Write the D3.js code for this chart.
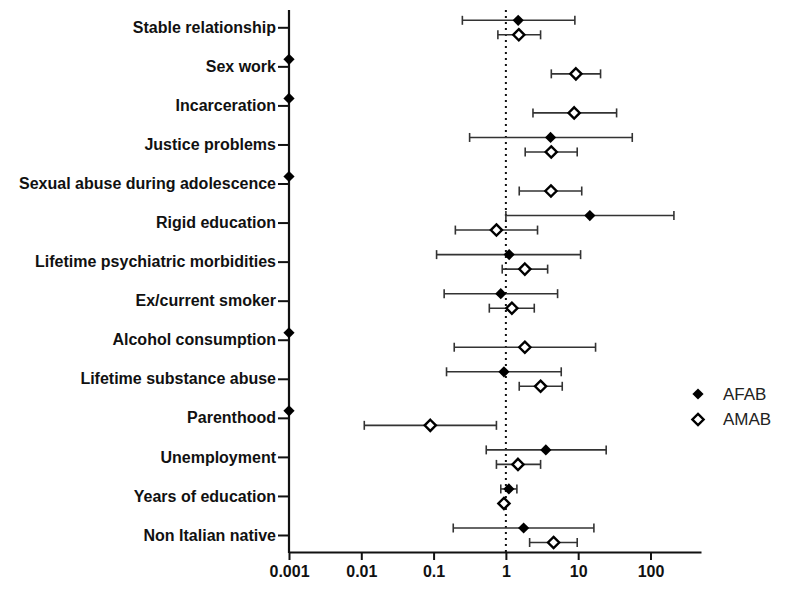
<!DOCTYPE html>
<html>
<head>
<meta charset="utf-8">
<script src="https://cdn.jsdelivr.net/npm/d3@7"></script>
<style>
  html, body { margin: 0; padding: 0; background: #fff; }
  svg { display: block; }
</style>
</head>
<body>
<svg id="chart" width="785" height="589"></svg>
<script>
// ---- data ----
const categories = [
  "Stable relationship", "Sex work", "Incarceration", "Justice problems",
  "Sexual abuse during adolescence", "Rigid education", "Lifetime psychiatric morbidities",
  "Ex/current smoker", "Alcohol consumption", "Lifetime substance abuse", "Parenthood",
  "Unemployment", "Years of education", "Non Italian native"
];
// AFAB odds ratios (0.001 = not estimable, drawn on the axis)
const afabOR    = [1.48, 0.001, 0.001, 4.15, 0.001, 14.5, 1.11, 0.85, 0.001, 0.94, 0.001, 3.57, 1.10, 1.76];
const afabLow   = [0.25, null,  null,  0.315, null, 1.0,  0.11, 0.14, null,  0.151, null, 0.535, 0.85, 0.187];
const afabHigh  = [9.0,  null,  null,  56,   null, 211,  10.8, 5.19, null,  5.83, null,  24.4, 1.42, 16.5];
// AMAB odds ratios
const amabOR    = [1.51, 9.3,  8.8,  4.24, 4.2,  0.74, 1.83, 1.21, 1.83, 3.02, 0.09,  1.47, 0.94, 4.57];
const amabLow   = [0.775, 4.25, 2.37, 1.85, 1.53, 0.20, 0.89, 0.59, 0.193, 1.53, 0.011, 0.74, 0.92, 2.13];
const amabHigh  = [3.02, 20.4, 34,   9.7,  11.2, 2.74, 3.78, 2.47, 17.4, 6.02, 0.74,  3.02, 0.96, 9.7];
const xTickValues = [0.001, 0.01, 0.1, 1, 10, 100];
const xTickLabels = ["0.001", "0.01", "0.1", "1", "10", "100"];
const seriesNames = ["AFAB", "AMAB"];

// ---- layout ----
const svg = d3.select("#chart");
const xLeft = 289, xRight = 701, yTop = 10, yBottom = 552;
const font = "'Liberation Sans', Arial, Helvetica, sans-serif";

const x = d3.scaleLog().domain([0.001, 500]).range([xLeft, xRight]);
const y = d3.scalePoint().domain(categories).range([27.3, 535]);
const offA = -7, offM = 7.5;

// reference line at OR = 1
svg.append("line")
  .attr("x1", x(1)).attr("x2", x(1))
  .attr("y1", yTop).attr("y2", yBottom)
  .attr("stroke", "#111").attr("stroke-width", 2)
  .attr("stroke-dasharray", "2,4");

// y axis
const yAxis = svg.append("g")
  .attr("transform", `translate(${xLeft},0)`)
  .call(d3.axisLeft(y).tickSize(11).tickPadding(2));
yAxis.select(".domain").remove();
yAxis.selectAll(".tick line").attr("stroke", "#111").attr("stroke-width", 2);
yAxis.selectAll(".tick text")
  .attr("font-family", font).attr("font-size", 16).attr("font-weight", "bold")
  .attr("fill", "#111");
svg.append("line")
  .attr("x1", xLeft).attr("x2", xLeft).attr("y1", yTop).attr("y2", yBottom + 1)
  .attr("stroke", "#111").attr("stroke-width", 2.2);

// x axis
const xAxis = svg.append("g")
  .attr("transform", `translate(0,${yBottom})`)
  .call(d3.axisBottom(x).tickValues(xTickValues)
    .tickFormat((d, i) => xTickLabels[i]).tickSize(8).tickSizeOuter(0).tickPadding(6));
xAxis.select(".domain").attr("stroke", "#111").attr("stroke-width", 2.2);
xAxis.selectAll(".tick line").attr("stroke", "#111").attr("stroke-width", 2);
xAxis.selectAll(".tick text")
  .attr("font-family", font).attr("font-size", 16).attr("font-weight", "bold")
  .attr("fill", "#111");

// error bars
function drawCI(low, high, off) {
  const g = svg.append("g");
  categories.forEach((c, i) => {
    if (low[i] == null || high[i] == null) return;
    const yy = y(c) + off;
    const x0 = x(low[i]), x1 = x(high[i]);
    const col = "#333";
    g.append("line").attr("x1", x0).attr("x2", x1).attr("y1", yy).attr("y2", yy)
      .attr("stroke", col).attr("stroke-width", 1.6);
    [x0, x1].forEach(xx => g.append("line").attr("x1", xx).attr("x2", xx)
      .attr("y1", yy - 4.5).attr("y2", yy + 4.5).attr("stroke", col).attr("stroke-width", 1.6));
  });
}
drawCI(afabLow, afabHigh, offA);
drawCI(amabLow, amabHigh, offM);

const diamondFilled = d3.symbol().type(d3.symbolDiamond2).size(80);
const diamondOpen = d3.symbol().type(d3.symbolDiamond2).size(80);

// AFAB points (filled)
svg.append("g").selectAll("path").data(categories).join("path")
  .attr("d", diamondFilled)
  .attr("transform", (c, i) => `translate(${x(afabOR[i])},${y(c) + offA})`)
  .attr("fill", "#000");

// AMAB points (open)
svg.append("g").selectAll("path").data(categories).join("path")
  .attr("d", diamondOpen)
  .attr("transform", (c, i) => `translate(${x(amabOR[i])},${y(c) + offM})`)
  .attr("fill", "#fff").attr("stroke", "#000").attr("stroke-width", 2.4);

// legend
const legend = svg.append("g").attr("transform", "translate(698,394)");
seriesNames.forEach((name, i) => {
  const gy = i * 25.5;
  const p = legend.append("path")
    .attr("transform", `translate(0,${gy})`);
  if (i === 0) p.attr("d", diamondFilled).attr("fill", "#000");
  else p.attr("d", diamondOpen).attr("fill", "#fff").attr("stroke", "#000").attr("stroke-width", 2.4);
  legend.append("text")
    .attr("x", 25).attr("y", gy).attr("dy", "0.35em")
    .attr("font-family", font).attr("font-size", 17)
    .attr("fill", "#222").text(name);
});
</script>
</body>
</html>
